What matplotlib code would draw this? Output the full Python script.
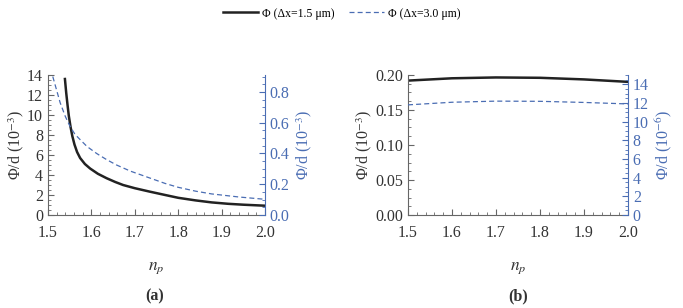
import matplotlib
matplotlib.use("Agg")
import matplotlib.pyplot as plt
from matplotlib.ticker import MultipleLocator

plt.rcParams["font.family"] = ["Liberation Serif", "DejaVu Serif"]
plt.rcParams["mathtext.fontset"] = "stix"

# panel (a): values
np_a_solid = [1.539, 1.542, 1.545, 1.548, 1.552, 1.556, 1.561, 1.567, 1.574,
              1.585, 1.597, 1.615, 1.635, 1.655, 1.673, 1.70, 1.735, 1.77,
              1.80, 1.84, 1.877, 1.915, 1.95, 2.0]
phi_a_solid = [13.6, 12.2, 11.0, 9.9, 8.8, 7.9, 7.05, 6.3, 5.7,
               5.1, 4.65, 4.12, 3.68, 3.3, 3.0, 2.68, 2.33, 2.0,
               1.72, 1.46, 1.26, 1.12, 1.03, 0.93]
np_a_dash = [1.511, 1.52, 1.528, 1.54, 1.551, 1.562, 1.574, 1.59, 1.612,
             1.635, 1.658, 1.69, 1.735, 1.77, 1.80, 1.84, 1.877, 1.94, 2.0]
phi_a_dash = [0.90, 0.81, 0.73, 0.64, 0.575, 0.525, 0.49, 0.445, 0.40,
              0.36, 0.325, 0.285, 0.24, 0.205, 0.18, 0.155, 0.137, 0.117, 0.102]

# panel (b)
np_b = [1.5, 1.6, 1.7, 1.8, 1.9, 2.0]
phi_b_solid = [0.192, 0.1953, 0.1965, 0.196, 0.1937, 0.1902]
phi_b_dash = [11.8, 12.08, 12.2, 12.18, 12.06, 11.9]

label_solid = "Φ (Δx=1.5 μm)"
label_dash = "Φ (Δx=3.0 μm)"

GREY = "#333333"
BLUE = "#4a6db3"
TICK_FS = 11.5


def style_axes(ax, ax2):
    for a in (ax, ax2):
        a.spines["top"].set_visible(False)
        a.tick_params(which="both", direction="in", labelsize=TICK_FS)
        a.tick_params(which="major", length=4)
        a.tick_params(which="minor", length=2)
    ax.tick_params(axis="x", which="major", pad=7)
    ax.spines["right"].set_visible(False)
    ax2.spines["left"].set_visible(False)
    ax2.spines["bottom"].set_visible(False)
    ax.spines["left"].set_color("#666666")
    ax.spines["bottom"].set_color("#666666")
    ax.tick_params(which="both", colors="#666666", labelcolor=GREY)
    ax2.spines["right"].set_color(BLUE)
    ax2.tick_params(which="both", colors=BLUE, labelcolor=BLUE)
    ax.set_xlim(1.5, 2.0)
    ax.xaxis.set_major_locator(MultipleLocator(0.1))
    ax.xaxis.set_minor_locator(MultipleLocator(0.02))
    ax.xaxis.set_major_formatter(plt.FuncFormatter(lambda v, p: f"{v:.1f}"))
    ax.set_xlabel("$n_p$", fontsize=12.5, color=GREY, labelpad=14)


fig = plt.figure(figsize=(6.83, 3.08), dpi=100)

# (a)
ax = fig.add_axes([48 / 683, 93 / 308, 217 / 683, 140 / 308])
ax2 = ax.twinx()
l1, = ax.plot(np_a_solid, phi_a_solid, color="#222222", lw=1.8, label=label_solid)
l2, = ax2.plot(np_a_dash, phi_a_dash, color=BLUE, lw=0.9, ls=(0, (4, 2.5)),
               label=label_dash)
ax.set_ylim(0, 14)
ax.yaxis.set_major_locator(MultipleLocator(2))
ax.yaxis.set_minor_locator(MultipleLocator(0.5))
ax2.set_ylim(0, 0.91)
ax2.yaxis.set_major_locator(MultipleLocator(0.2))
ax2.yaxis.set_minor_locator(MultipleLocator(0.05))
ax2.yaxis.set_major_formatter(plt.FuncFormatter(lambda v, p: f"{v:.1f}"))
ax.set_ylabel("Φ/d (10$^{-3}$)", fontsize=11.5, color=GREY, labelpad=1)
ax2.set_ylabel("Φ/d (10$^{-3}$)", fontsize=11.5, color=BLUE, labelpad=3)
style_axes(ax, ax2)

# (b)
bx = fig.add_axes([408 / 683, 93 / 308, 220 / 683, 140 / 308])
bx2 = bx.twinx()
bx.plot(np_b, phi_b_solid, color="#222222", lw=1.8)
bx2.plot(np_b, phi_b_dash, color=BLUE, lw=0.9, ls=(0, (4, 2.5)))
bx.set_ylim(0, 0.2)
bx.yaxis.set_major_locator(MultipleLocator(0.05))
bx.yaxis.set_minor_locator(MultipleLocator(0.0125))
bx.yaxis.set_major_formatter(plt.FuncFormatter(lambda v, p: f"{v:.2f}"))
bx2.set_ylim(0, 15)
bx2.yaxis.set_major_locator(MultipleLocator(2))
bx2.yaxis.set_minor_locator(MultipleLocator(0.5))
bx.set_ylabel("Φ/d (10$^{-3}$)", fontsize=11.5, color=GREY, labelpad=1)
bx2.set_ylabel("Φ/d (10$^{-6}$)", fontsize=11.5, color=BLUE, labelpad=3)
style_axes(bx, bx2)

fig.text(155 / 683, 1 - 296 / 308, "(a)", ha="center", va="center",
         fontsize=11.5, fontweight="bold", color=GREY)
fig.text(518 / 683, 1 - 296 / 308, "(b)", ha="center", va="center",
         fontsize=11.5, fontweight="bold", color=GREY)

fig.legend(handles=[l1, l2], loc="upper center", bbox_to_anchor=(0.5, 1.01),
           ncol=2, frameon=False, fontsize=8.5, handlelength=3.0,
           columnspacing=1.2, handletextpad=0.3)

fig.savefig("out.png", dpi=100)
